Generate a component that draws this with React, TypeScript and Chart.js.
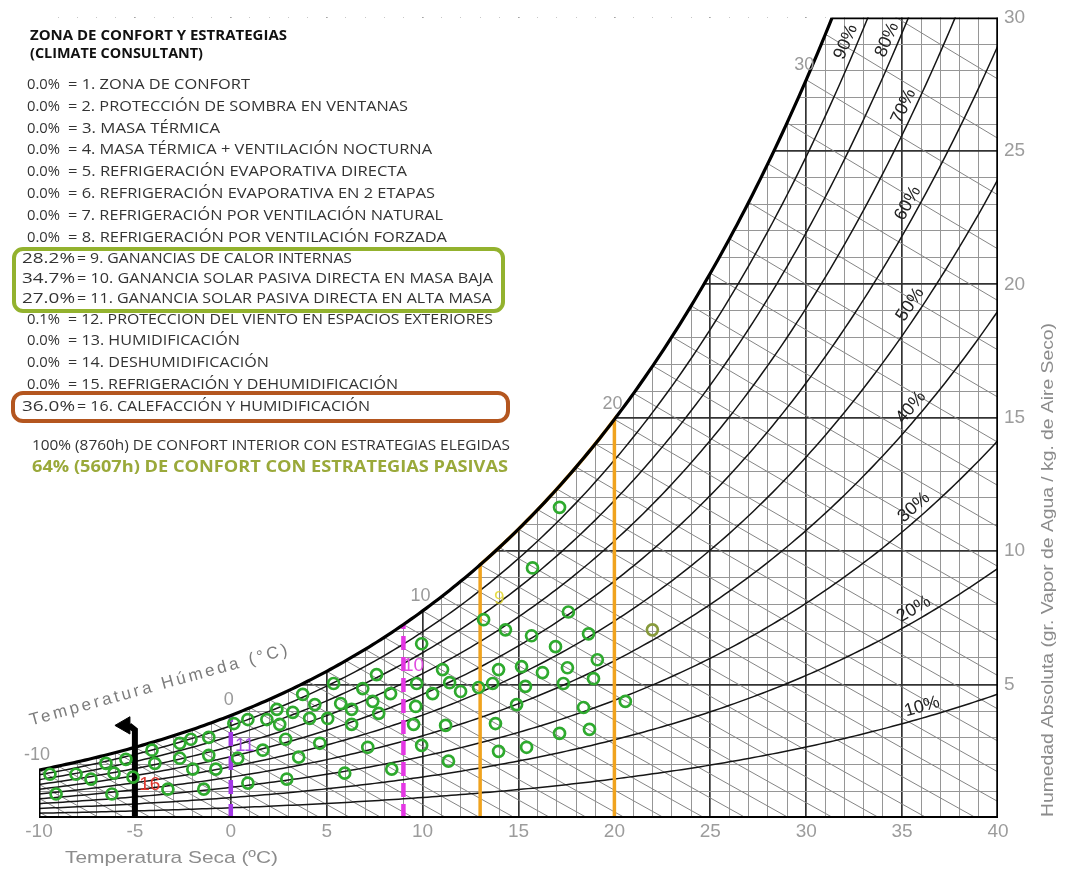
import React, { useEffect, useRef } from "react";
import { Chart, registerables } from "chart.js";

Chart.register(...registerables);

// ---------------------------------------------------------------------------
// Chart values
// ---------------------------------------------------------------------------

// Station pressure used for the psychrometric relations (kPa)
const STATION_PRESSURE = 99.5;

const dryBulbTicks = [-10, -5, 0, 5, 10, 15, 20, 25, 30, 35, 40];
const humidityTicks = [5, 10, 15, 20, 25, 30];
const relHumidityLevels = [10, 20, 30, 40, 50, 60, 70, 80, 90];
const wetBulbLabelTemps = [-10, 0, 10, 20, 30];

const strategyShares = [
  "0.0%", "0.0%", "0.0%", "0.0%", "0.0%", "0.0%", "0.0%", "0.0%",
  "28.2%", "34.7%", "27.0%", "0.1%", "0.0%", "0.0%", "0.0%", "36.0%",
];
const strategyNames = [
  "1. ZONA DE CONFORT",
  "2. PROTECCIÓN DE SOMBRA EN VENTANAS",
  "3. MASA TÉRMICA",
  "4. MASA TÉRMICA + VENTILACIÓN NOCTURNA",
  "5. REFRIGERACIÓN EVAPORATIVA DIRECTA",
  "6. REFRIGERACIÓN EVAPORATIVA EN 2 ETAPAS",
  "7. REFRIGERACIÓN POR VENTILACIÓN NATURAL",
  "8. REFRIGERACIÓN POR VENTILACIÓN FORZADA",
  "9. GANANCIAS DE CALOR INTERNAS",
  "10. GANANCIA SOLAR PASIVA DIRECTA EN MASA BAJA",
  "11. GANANCIA SOLAR PASIVA DIRECTA EN ALTA MASA",
  "12. PROTECCION DEL VIENTO EN ESPACIOS EXTERIORES",
  "13. HUMIDIFICACIÓN",
  "14. DESHUMIDIFICACIÓN",
  "15. REFRIGERACIÓN Y DEHUMIDIFICACIÓN",
  "16. CALEFACCIÓN Y HUMIDIFICACIÓN",
];
const titleLines = ["ZONA DE CONFORT Y ESTRATEGIAS", "(CLIMATE CONSULTANT)"];
const totalComfortText = "100% (8760h) DE CONFORT INTERIOR CON ESTRATEGIAS ELEGIDAS";
const passiveComfortText = "64% (5607h) DE CONFORT CON ESTRATEGIAS PASIVAS";

// Climate points: dry bulb (°C) and absolute humidity (g/kg)
const hourDryBulb = [
  -9.43, -8.07, -7.29, -9.11, -6.51, -6.09, -6.2, -5.47, -5.1, -4.11,
  -3.96, -3.28, -2.66, -2.08, -2.66, -1.98, -1.15, -1.15, -0.78, -1.41,
  0.16, 0.89, 1.88, 2.55, 2.4, 3.23, 3.75, 4.38, 4.11, 5.05,
  5.36, 0.36, 1.67, 2.86, 3.54, 4.64, 0.89, 2.92,
  15.73, 17.6, 13.18, 14.32, 15.68, 18.65, 16.93, 9.95, 19.11, 11.04,
  13.96, 15.16, 16.25, 17.55, 7.6, 6.88, 8.33, 9.69, 11.41, 11.98,
  12.92, 13.65, 15.36, 17.34, 18.91, 10.52, 7.4, 5.73, 6.3, 7.71,
  9.64, 14.9, 18.39, 20.57, 6.3, 9.53, 11.2, 13.8, 17.14, 18.7,
  7.14, 9.95, 13.96, 15.42, 5.94, 8.39, 11.35, 17.14,
];
const hourHumidity = [
  1.64, 1.64, 1.46, 0.9, 2.05, 1.68, 0.9, 2.2, 1.53, 2.54,
  2.05, 1.08, 2.8, 2.95, 2.24, 1.83, 3.02, 2.35, 1.83, 1.08,
  3.54, 3.69, 3.69, 3.51, 4.07, 3.96, 4.63, 4.25, 3.73, 3.73,
  5.04, 2.24, 2.54, 2.95, 2.28, 2.8, 1.31, 1.46,
  9.37, 7.72, 7.43, 7.05, 6.83, 6.9, 6.42, 6.53, 5.93, 5.56,
  5.56, 5.67, 5.45, 5.63, 5.37, 4.85, 4.66, 5.04, 5.07, 4.74,
  4.89, 5.04, 4.93, 5.04, 5.22, 4.66, 4.37, 4.29, 4.07, 3.92,
  4.18, 4.25, 4.14, 4.37, 3.51, 3.51, 3.47, 3.54, 3.17, 3.32,
  2.65, 2.72, 2.5, 2.65, 1.68, 1.83, 2.13, 11.64,
];
const outlierDryBulb = [21.98];
const outlierHumidity = [7.05];

// Strategy limits on the dry bulb axis (°C)
const internalGainsRange = [13, 20];
const solarLowMassEdge = 9;
const solarHighMassEdge = 0;
const heatingEdge = -5;

const zoneLabels = ["16", "11", "10", "9"];
const zoneLabelTemps = [-4.22, 0.73, 9.53, 14.0];
const zoneLabelHumidity = [1.23, 2.72, 5.71, 8.2];

// ---------------------------------------------------------------------------
// Layout of the text block
// ---------------------------------------------------------------------------
const ROW_Y = [85, 107, 129, 150, 172, 194, 216, 238, 259, 279, 299, 320, 341, 363, 385, 407];
const ROW_RIGHT = [250, 408, 220, 432, 407, 435, 443, 447, 352, 493, 492, 493, 240, 269, 398, 370];
const RH_LABEL_T = [36.2, 35.9, 36.0, 35.9, 35.9, 35.8, 35.6, 34.75, 32.6];

const TEXT_FONT = "'Open Sans', 'DejaVu Sans', sans-serif";
const AXIS_FONT = "'Liberation Sans', Arial, sans-serif";

// ---------------------------------------------------------------------------
// Psychrometric relations
// ---------------------------------------------------------------------------
const satPressure = (t: number) => 0.61094 * Math.exp((17.625 * t) / (t + 243.04));
const humidityRatio = (pv: number) => (622 * pv) / (STATION_PRESSURE - pv);
const wSat = (t: number) => humidityRatio(satPressure(t));
const wAtRh = (t: number, rh: number) => humidityRatio((satPressure(t) * rh) / 100);
const wWetBulb = (tdb: number, twb: number) => {
  const ws = wSat(twb) / 1000;
  return (
    (1000 * ((2501 - 2.326 * twb) * ws - 1.006 * (tdb - twb))) /
    (2501 + 1.86 * tdb - 4.186 * twb)
  );
};
const satTempFor = (w: number) => {
  let lo = -20;
  let hi = 60;
  for (let i = 0; i < 60; i++) {
    const mid = (lo + hi) / 2;
    if (wSat(mid) < w) lo = mid;
    else hi = mid;
  }
  return (lo + hi) / 2;
};

type Pt = { x: number; y: number };

const satCurveBetween = (t0: number, t1: number): Pt[] => {
  const pts: Pt[] = [];
  for (let t = t0; t < t1; t += 0.2) pts.push({ x: t, y: wSat(t) });
  pts.push({ x: t1, y: wSat(t1) });
  return pts;
};

function buildDatasets() {
  const tTop = satTempFor(30);
  const satCurve = satCurveBetween(-10, tTop);
  const base = { pointRadius: 0, tension: 0, showLine: true, fill: false } as any;
  const sets: any[] = [];

  // white cover above the saturation line (hides the grid there)
  sets.push({
    ...base,
    data: satCurve,
    borderColor: "rgba(0,0,0,0)",
    borderWidth: 1,
    fill: "end",
    backgroundColor: "#ffffff",
    order: 100,
  });

  // wet bulb lines, one per degree
  for (let twb = -14; twb <= 42; twb++) {
    const ws = wSat(twb) / 1000;
    const tZero = twb + ((2501 - 2.326 * twb) * ws) / 1.006;
    const tEnd = Math.min(tZero, 41);
    const pts: Pt[] = [];
    for (let t = twb; t < tEnd; t += 1) pts.push({ x: t, y: wWetBulb(t, twb) });
    pts.push({ x: tEnd, y: Math.max(0, wWetBulb(tEnd, twb)) });
    sets.push({ ...base, data: pts, borderColor: "#858585", borderWidth: 1, order: 90 });
  }

  // relative humidity curves
  relHumidityLevels.forEach((rh) => {
    const pts: Pt[] = [];
    for (let t = -10; t <= 40.001; t += 0.25) pts.push({ x: t, y: wAtRh(t, rh) });
    sets.push({ ...base, data: pts, borderColor: "#161616", borderWidth: 1.5, order: 80 });
  });

  // internal gains zone
  const [g0, g1] = internalGainsRange;
  sets.push({
    ...base,
    data: [{ x: g0, y: 0 }, ...satCurveBetween(g0, g1), { x: g1, y: 0 }, { x: g0, y: 0 }],
    borderColor: "#f0a31e",
    borderWidth: 3.5,
    order: 70,
  });

  // passive solar limits
  sets.push({
    ...base,
    data: [{ x: solarLowMassEdge, y: 0 }, { x: solarLowMassEdge, y: wSat(solarLowMassEdge) }],
    borderColor: "#e437e4",
    borderWidth: 4.5,
    borderDash: [14, 7],
    order: 60,
  });
  sets.push({
    ...base,
    data: [{ x: solarHighMassEdge, y: 0 }, { x: solarHighMassEdge, y: wSat(solarHighMassEdge) }],
    borderColor: "#a238e6",
    borderWidth: 4.5,
    borderDash: [14, 10],
    order: 60,
  });

  // heating limit with arrow
  sets.push({
    ...base,
    data: [{ x: heatingEdge, y: 0 }, { x: heatingEdge, y: 3.3 }, { x: heatingEdge - 0.3, y: 3.47 }],
    borderColor: "#000000",
    borderWidth: 6,
    order: 50,
  });
  sets.push({
    data: [{ x: heatingEdge - 0.52, y: 3.47 }],
    showLine: false,
    pointStyle: "triangle",
    rotation: -90,
    pointRadius: 10,
    pointBackgroundColor: "#000000",
    pointBorderColor: "#000000",
    pointBorderWidth: 1,
    order: 50,
  });

  // saturation line and frame
  const frame = { ...base, borderColor: "#000000", order: 40 };
  sets.push({ ...frame, data: satCurve, borderWidth: 3.2 });
  sets.push({ ...frame, data: [{ x: -10, y: 0 }, { x: 40, y: 0 }], borderWidth: 4 });
  sets.push({ ...frame, data: [{ x: 40, y: 0 }, { x: 40, y: 30 }], borderWidth: 3.5 });
  sets.push({ ...frame, data: [{ x: tTop, y: 30 }, { x: 40, y: 30 }], borderWidth: 3.5 });
  sets.push({ ...frame, data: [{ x: -10, y: 0 }, { x: -10, y: wSat(-10) }], borderWidth: 3 });

  // climate points
  sets.push({
    data: hourDryBulb.map((t, i) => ({ x: t, y: hourHumidity[i] })),
    showLine: false,
    pointRadius: 5.5,
    pointBorderWidth: 2.7,
    pointBorderColor: "#2eaa2e",
    pointBackgroundColor: "rgba(0,0,0,0)",
    order: 10,
  });
  sets.push({
    data: outlierDryBulb.map((t, i) => ({ x: t, y: outlierHumidity[i] })),
    showLine: false,
    pointRadius: 5.5,
    pointBorderWidth: 2.7,
    pointBorderColor: "#879a3c",
    pointBackgroundColor: "rgba(0,0,0,0)",
    order: 10,
  });
  return sets;
}

function fitText(
  ctx: CanvasRenderingContext2D,
  text: string,
  left: number,
  right: number,
  y: number
) {
  const w = ctx.measureText(text).width || 1;
  ctx.save();
  ctx.translate(left, y);
  ctx.scale((right - left) / w, 1);
  ctx.textAlign = "left";
  ctx.fillText(text, 0, 0);
  ctx.restore();
}

const textPlugin = {
  id: "psychroText",
  afterDraw(chart: any) {
    const ctx: CanvasRenderingContext2D = chart.ctx;
    const xs = chart.scales.x;
    const ys = chart.scales.y;
    const px = (t: number) => xs.getPixelForValue(t);
    const py = (w: number) => ys.getPixelForValue(w);

    ctx.save();
    ctx.textBaseline = "middle";

    // highlighted strategy frames
    ctx.lineWidth = 4;
    ctx.strokeStyle = "#93b22e";
    ctx.beginPath();
    ctx.roundRect(14, 249, 489, 62, 9);
    ctx.stroke();
    ctx.strokeStyle = "#b4561f";
    ctx.beginPath();
    ctx.roundRect(13, 393, 495, 28, 10);
    ctx.stroke();

    // title
    ctx.fillStyle = "#111111";
    ctx.font = `bold 14px ${TEXT_FONT}`;
    fitText(ctx, titleLines[0], 30, 287, 36);
    fitText(ctx, titleLines[1], 30, 203, 54);

    // strategy list
    ctx.fillStyle = "#333333";
    ctx.font = `14px ${TEXT_FONT}`;
    strategyShares.forEach((share, i) => {
      const wide = share.length > 4;
      const y = ROW_Y[i];
      fitText(ctx, share, wide ? 22 : 27, wide ? 75 : 60, y);
      fitText(ctx, "= " + strategyNames[i], wide ? 77 : 68, ROW_RIGHT[i], y);
    });

    ctx.font = `15px ${TEXT_FONT}`;
    ctx.fillStyle = "#333333";
    fitText(ctx, totalComfortText, 32, 510, 446);
    ctx.font = `bold 16px ${TEXT_FONT}`;
    ctx.fillStyle = "#9aa93a";
    fitText(ctx, passiveComfortText, 32, 508, 467);

    // axis titles
    ctx.fillStyle = "#8c8c8c";
    ctx.font = `17px ${AXIS_FONT}`;
    fitText(ctx, "Temperatura Seca (ºC)", 65, 278, 858);

    ctx.save();
    ctx.translate(1048, 817);
    ctx.rotate(-Math.PI / 2);
    fitText(ctx, "Humedad Absoluta (gr. Vapor de Agua / kg. de Aire Seco)", 0, 494, 0);
    ctx.restore();

    ctx.save();
    ctx.fillStyle = "#7c7c7c";
    ctx.translate(30, 721);
    ctx.rotate(Math.atan2(650 - 721, 287 - 30));
    const humText = "Temperatura Húmeda (°C)";
    const natural = ctx.measureText(humText).width;
    const span = Math.hypot(287 - 30, 650 - 721);
    (ctx as any).letterSpacing = `${(span - natural) / (humText.length - 1)}px`;
    ctx.textAlign = "left";
    ctx.fillText(humText, 0, 0);
    ctx.restore();

    // wet bulb labels on the saturation line
    ctx.fillStyle = "#9a9a9a";
    ctx.font = `18px ${AXIS_FONT}`;
    ctx.textAlign = "center";
    wetBulbLabelTemps.forEach((t) => {
      ctx.fillText(String(t), px(t) - 2, py(wSat(t)) - 15);
    });

    // relative humidity labels
    ctx.fillStyle = "#222222";
    ctx.font = `18px ${AXIS_FONT}`;
    relHumidityLevels.forEach((rh, i) => {
      const t = RH_LABEL_T[i];
      const x0 = px(t - 0.25);
      const y0 = py(wAtRh(t - 0.25, rh));
      const x1 = px(t + 0.25);
      const y1 = py(wAtRh(t + 0.25, rh));
      const len = Math.hypot(x1 - x0, y1 - y0);
      const nx = (y1 - y0) / len;
      const ny = -(x1 - x0) / len;
      ctx.save();
      ctx.translate(px(t) + nx * 11, py(wAtRh(t, rh)) + ny * 11);
      ctx.rotate(Math.atan2(y1 - y0, x1 - x0));
      ctx.fillText(rh + "%", 0, 0);
      ctx.restore();
    });

    // strategy numbers inside the chart
    const zoneColors = ["#e0352c", "#a64ce2", "#e04ee0", "rgba(226,214,40,0.85)"];
    ctx.font = `19px ${AXIS_FONT}`;
    zoneLabels.forEach((label, i) => {
      ctx.fillStyle = zoneColors[i];
      ctx.fillText(label, px(zoneLabelTemps[i]), py(zoneLabelHumidity[i]));
    });

    ctx.restore();
  },
};

export default function App() {
  const canvasRef = useRef<HTMLCanvasElement>(null);

  useEffect(() => {
    document.body.style.margin = "0";
    const canvas = canvasRef.current;
    if (!canvas) return;
    // grid lines on the outer edges are left to the frame lines
    const gridColor = (edges: number[]) => (c: any) => {
      if (!c.tick) return "rgba(0,0,0,0)";
      const v = c.tick.value;
      if (edges.includes(v)) return "rgba(0,0,0,0)";
      return v % 5 === 0 ? "#333333" : "#969696";
    };
    const gridWidth = (c: any) => (c.tick && c.tick.value % 5 === 0 ? 1.7 : 1);
    const chart = new Chart(canvas, {
      type: "line",
      data: { datasets: buildDatasets() },
      options: {
        animation: false,
        responsive: false,
        devicePixelRatio: 1,
        events: [],
        layout: { padding: { left: 39, top: 14, right: 0, bottom: 0 } },
        plugins: { legend: { display: false }, tooltip: { enabled: false } },
        scales: {
          x: {
            type: "linear",
            position: "bottom",
            min: -10,
            max: 40,
            afterFit: (s: any) => {
              s.height = 53;
            },
            border: { display: false },
            grid: { drawTicks: false, color: gridColor([-10, 40]), lineWidth: gridWidth },
            ticks: {
              stepSize: 1,
              maxTicksLimit: 100,
              autoSkip: false,
              maxRotation: 0,
              padding: 2,
              color: "#9c9c9c",
              font: { family: AXIS_FONT, size: 19 },
              callback: (v: any) => (dryBulbTicks.includes(Number(v)) ? String(v) : ""),
            },
          },
          y: {
            type: "linear",
            position: "right",
            min: 0,
            max: 30,
            afterFit: (s: any) => {
              s.width = 70;
            },
            border: { display: false },
            grid: { drawTicks: false, color: gridColor([0, 30]), lineWidth: gridWidth },
            ticks: {
              stepSize: 1,
              maxTicksLimit: 100,
              autoSkip: false,
              padding: 6,
              color: "#9c9c9c",
              font: { family: AXIS_FONT, size: 19 },
              callback: (v: any) => (humidityTicks.includes(Number(v)) ? String(v) : ""),
            },
          },
        },
      } as any,
      plugins: [textPlugin],
    });
    return () => chart.destroy();
  }, []);

  return (
    <div style={{ width: 1068, height: 871, background: "#ffffff" }}>
      <canvas ref={canvasRef} width={1068} height={871} style={{ display: "block" }} />
    </div>
  );
}
